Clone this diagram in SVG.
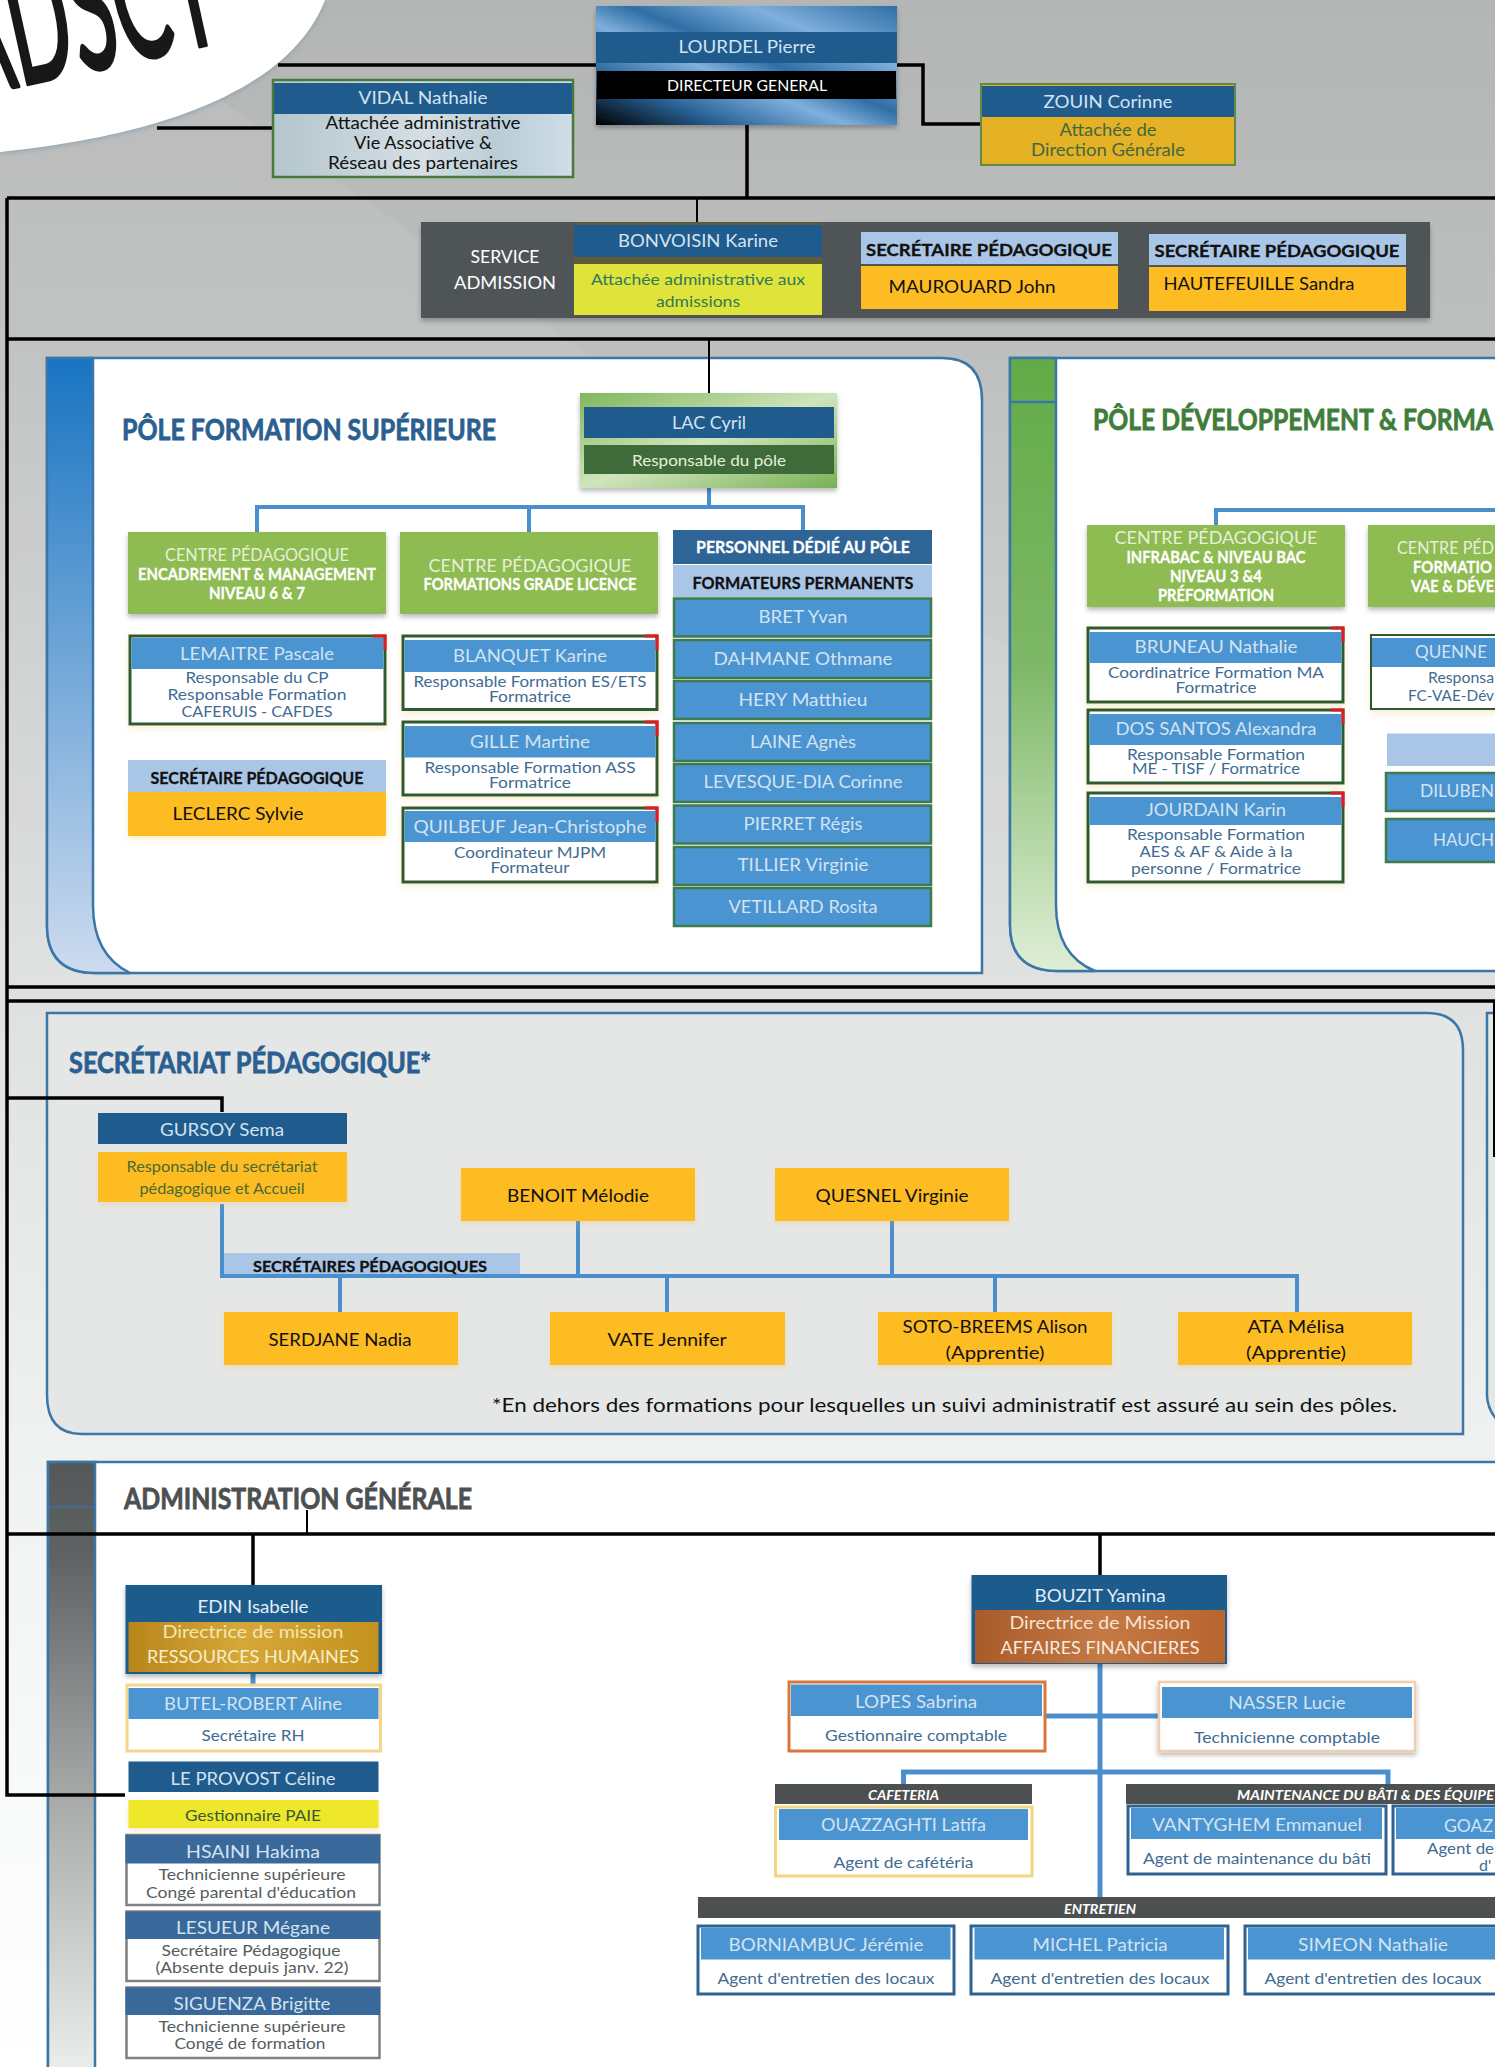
<svg xmlns="http://www.w3.org/2000/svg" width="1495" height="2067" viewBox="0 0 1495 2067">
<defs>
<linearGradient id="bg" x1="0" y1="0" x2="0" y2="1"><stop offset="0" stop-color="#b4b5b5"/><stop offset=".165" stop-color="#bdbebe"/><stop offset=".485" stop-color="#dfe0e0"/><stop offset=".72" stop-color="#f1f3f3"/><stop offset="1" stop-color="#ffffff"/></linearGradient>
<linearGradient id="barB" x1="0" y1="0" x2="0" y2="1"><stop offset="0" stop-color="#1874c2"/><stop offset="1" stop-color="#cddbef"/></linearGradient>
<linearGradient id="barG" x1="0" y1="0" x2="0" y2="1"><stop offset="0" stop-color="#62ab48"/><stop offset=".5" stop-color="#7db866"/><stop offset="1" stop-color="#dfeed6"/></linearGradient>
<linearGradient id="barK" x1="0" y1="0" x2="0" y2="1"><stop offset="0" stop-color="#555859"/><stop offset=".15" stop-color="#5f6263"/><stop offset=".55" stop-color="#a9abab"/><stop offset="1" stop-color="#eeefef"/></linearGradient>
<linearGradient id="dir" x1="0" y1="1" x2="1" y2="0"><stop offset="0" stop-color="#000"/><stop offset=".22" stop-color="#2a6499"/><stop offset=".42" stop-color="#7fb0dd"/><stop offset=".55" stop-color="#2f6ea5"/><stop offset=".75" stop-color="#7fb0dd"/><stop offset="1" stop-color="#2f6ea5"/></linearGradient>
<linearGradient id="vid" x1="0" y1="0" x2="1" y2="0"><stop offset="0" stop-color="#b4c5cd"/><stop offset=".5" stop-color="#d5dfe4"/><stop offset=".75" stop-color="#b9cdd6"/><stop offset="1" stop-color="#d0deea"/></linearGradient>
<linearGradient id="lac" x1="0" y1="0" x2="1" y2="1"><stop offset="0" stop-color="#7fb65c"/><stop offset=".5" stop-color="#cfe5bd"/><stop offset="1" stop-color="#78b054"/></linearGradient>
<linearGradient id="gold" x1="0" y1="0" x2="1" y2="0"><stop offset="0" stop-color="#b8861b"/><stop offset=".45" stop-color="#d6a838"/><stop offset="1" stop-color="#c3921f"/></linearGradient>
<linearGradient id="copper" x1="0" y1="0" x2="1" y2="0"><stop offset="0" stop-color="#a85b29"/><stop offset=".5" stop-color="#c47a45"/><stop offset="1" stop-color="#b8652f"/></linearGradient>
<filter id="sh" x="-10%" y="-10%" width="120%" height="130%"><feDropShadow dx="0" dy="3" stdDeviation="2.5" flood-color="#000" flood-opacity=".28"/></filter>
<filter id="so" x="-10%" y="-10%" width="120%" height="130%"><feDropShadow dx="0" dy="3" stdDeviation="3" flood-color="#e8b64a" flood-opacity=".25"/></filter>
<filter id="lg" x="-10%" y="-10%" width="120%" height="120%"><feDropShadow dx="0" dy="2" stdDeviation="2" flood-color="#6f8ea3" flood-opacity=".5"/></filter>
</defs>
<style>
text{font-family:Lato,"Liberation Sans",sans-serif;text-anchor:middle;dominant-baseline:central;transform:translateY(-1px)}
.st{text-anchor:start}
.n{font-size:18px;fill:#d3e3f0}
.w{font-size:18px;fill:#fff}
.s{font-size:16px;fill:#3f6c92}
.g{font-size:16px;fill:#555c60}
.k{font-size:18px;fill:#111}
.kb{font-size:17px;font-weight:700;fill:#111;stroke:#111;stroke-width:.3}
.wb{font-size:17px;font-weight:700;fill:#fff;stroke:#fff;stroke-width:.3}
.wi{font-size:14px;font-weight:700;font-style:italic;fill:#fff}
.c{font-size:18px;fill:#e6f0d8}
.t{font-size:29px;font-weight:700;stroke-width:.8}
.hd{fill:#1f5b8c}
.bl{fill:#4a94d2}
.or{fill:#fdbc22}
.lb{fill:#aac6e6}
.gr{fill:#8fbb52}
.dk{fill:#4d5051}
.wh{fill:#fff}
.ye{fill:#e0e33a}
.pb{fill:#fff;stroke:#2f5a30;stroke-width:3}
.pg{fill:#fff;stroke:#808080;stroke-width:2.5}
.pn{fill:#fff;stroke:#2f6291;stroke-width:3}
.fm{fill:#4a94d2;stroke:#3e7a4a;stroke-width:2.5}
.red{fill:none;stroke:#e01b24;stroke-width:3}
.lk{fill:none;stroke:#000;stroke-width:3.5}
.lk2{fill:none;stroke:#000;stroke-width:2}
.lb2{fill:none;stroke:#4a8fcc;stroke-width:4}
.lb3{fill:none;stroke:#4a8fcc;stroke-width:5}
.pan{stroke:#3a77a8;stroke-width:2.5}
</style>
<rect id="background" width="1495" height="2067" fill="url(#bg)"/>
<polygon points="220,100 1495,985 0,985 0,100" fill="#fff" opacity=".07"/>
<g id="logo">
<path d="M0 0H325C300 65 215 130 0 152Z" fill="#fff" filter="url(#lg)"/>
<g transform="translate(-35 98) rotate(-12.400)"><text x="0" y="0" class="st" style="dominant-baseline:alphabetic;transform:none;font-size:180px;fill:#16181a;stroke:#16181a;stroke-width:4;stroke-linejoin:round" textLength="268" lengthAdjust="spacingAndGlyphs">ADSCT</text></g>
</g>
<g id="panels">
<path class="pan" d="M47 358H942Q982 358 982 400V973H95Q47 973 47 925Z" fill="#fff"/>
<path class="pan" d="M47 358H93V905Q93 955 130 973H95Q47 973 47 925Z" fill="url(#barB)"/>
<path d="M47 403H93" stroke="#3a77a8" stroke-width="1"/>
<path class="pan" d="M1010 358H1510V971H1058Q1010 971 1010 925Z" fill="#fff"/>
<path class="pan" d="M1010 358H1056V905Q1056 955 1095 971H1058Q1010 971 1010 925Z" fill="url(#barG)"/>
<path d="M1010 402H1056" stroke="#3a77a8" stroke-width="2.500"/>
<path class="pan" d="M47 1013H1427Q1463 1013 1463 1050V1434H82Q47 1434 47 1395Z" fill="#e5e7e7"/>
<path class="pan" d="M1510 1013H1487V1395Q1487 1415 1510 1432Z" fill="#e6e8e8"/>
<path class="pan" d="M48 2080V1462H1510V2080Z" fill="#fff"/>
<path d="M48 1462H95V2080H48Z" fill="url(#barK)" stroke="#3a77a8" stroke-width="2.500"/>
<path d="M48 1507H95" stroke="#3a6fa8" stroke-width="1.500"/>
<text x="122" y="429" class="t st" fill="#2a5f8f" stroke="#2a5f8f" textLength="374" lengthAdjust="spacingAndGlyphs">PÔLE FORMATION SUPÉRIEURE</text>
<text x="1093" y="419" class="t st" fill="#3f7d3a" stroke="#3f7d3a" textLength="400" lengthAdjust="spacingAndGlyphs">PÔLE DÉVELOPPEMENT &amp; FORMA</text>
<text x="69" y="1062" class="t st" fill="#2a5f8f" stroke="#2a5f8f" textLength="362" lengthAdjust="spacingAndGlyphs">SECRÉTARIAT PÉDAGOGIQUE*</text>
<text x="124" y="1498" class="t st" fill="#4d5051" stroke="#4d5051" textLength="348" lengthAdjust="spacingAndGlyphs">ADMINISTRATION GÉNÉRALE</text>
<text x="492" y="1405" class="k st" style="font-size:20px" textLength="905" lengthAdjust="spacingAndGlyphs">*En dehors des formations pour lesquelles un suivi administratif est assuré au sein des pôles.</text>
</g>
<g id="connectors">
<path class="lk" d="M278 65H596M897 65H923V124H981M157 128H273M747 125V198"/>
<path class="lk" d="M7 198H1495M7 339H1495M7 987H1495M7 1001H1495M7 1534H1495M7 198V1795H125M7 1098H222V1112M253 1534V1585M1100 1534V1575"/>
<path class="lk2" d="M697 198V222M709 340V393M307 1510V1534M1494 1002V1157"/>
<path d="M822 270H861" stroke="#fff" stroke-width="3"/>
<path class="lb2" d="M709 488V507M257 532V507H803V532M529 507V532M1216 526V510H1510"/>
<path class="lb2" d="M222 1204V1276H1297V1312M578 1221V1276M892 1221V1276M340 1276V1312M667 1276V1312M995 1276V1312"/>
<path class="lb3" d="M253 1674V1684M1100 1664V1898M1045 1716H1158M903.500 1784V1772H1388V1784"/>
</g>
<g id="lourdel"><rect x="596" y="6" width="301" height="119" fill="url(#dir)" filter="url(#sh)"/><rect x="596" y="32" width="301" height="31" class="hd"/><rect x="597" y="71" width="299" height="28" fill="#000"/><text x="747" y="47" class="n" textLength="137" lengthAdjust="spacingAndGlyphs">LOURDEL Pierre</text><text x="747" y="85" class="w" style="font-size:16px" textLength="160" lengthAdjust="spacingAndGlyphs">DIRECTEUR GENERAL</text></g>
<g id="vidal"><rect x="273" y="80" width="300" height="97" fill="url(#vid)" stroke="#4a7a3a" stroke-width="2.500"/><rect x="274" y="83" width="298" height="31" class="hd"/><text x="423" y="98" class="n" textLength="129" lengthAdjust="spacingAndGlyphs">VIDAL Nathalie</text><text x="423" y="123" class="k" textLength="195" lengthAdjust="spacingAndGlyphs">Attachée administrative</text><text x="423" y="143" class="k" textLength="138" lengthAdjust="spacingAndGlyphs">Vie Associative &amp;</text><text x="423" y="163" class="k" textLength="190" lengthAdjust="spacingAndGlyphs">Réseau des partenaires</text></g>
<g id="zouin"><rect x="981" y="84" width="254" height="81" fill="#e5b125" stroke="#5f8a4a" stroke-width="2"/><rect x="982" y="86" width="252" height="31" class="hd"/><text x="1108" y="102" class="n" textLength="129" lengthAdjust="spacingAndGlyphs">ZOUIN Corinne</text><text x="1108" y="130" style="font-size:17px;fill:#3f6a40" textLength="97" lengthAdjust="spacingAndGlyphs">Attachée de</text><text x="1108" y="150" style="font-size:17px;fill:#3f6a40" textLength="154" lengthAdjust="spacingAndGlyphs">Direction Générale</text></g>
<g id="service-admission"><rect x="421" y="222" width="1009" height="96" fill="#505556" filter="url(#sh)"/><text x="505" y="257" class="w" textLength="69" lengthAdjust="spacingAndGlyphs">SERVICE</text><text x="505" y="283" class="w" textLength="102" lengthAdjust="spacingAndGlyphs">ADMISSION</text></g>
<g id="bonvoisin"><rect x="574" y="222" width="248" height="42" fill="#5f5b3a"/><rect x="574" y="225" width="248" height="32" fill="#1f5b8c"/><rect x="574" y="264" width="248" height="51" class="ye"/><text x="698" y="241" class="n" textLength="160" lengthAdjust="spacingAndGlyphs">BONVOISIN Karine</text><text x="698" y="279" style="font-size:16px;fill:#2f7a5a" textLength="214" lengthAdjust="spacingAndGlyphs">Attachée administrative aux</text><text x="698" y="301" style="font-size:16px;fill:#2f7a5a" textLength="84" lengthAdjust="spacingAndGlyphs">admissions</text></g>
<g id="maurouard"><rect x="861" y="232" width="257" height="32" class="lb"/><rect x="861" y="266" width="257" height="43" class="or"/><text x="989" y="250" class="kb" textLength="246" lengthAdjust="spacingAndGlyphs">SECRÉTAIRE PÉDAGOGIQUE</text><text x="972" y="287" class="k" textLength="167" lengthAdjust="spacingAndGlyphs">MAUROUARD John</text></g>
<g id="hautefeuille"><rect x="1149" y="234" width="257" height="31" class="lb"/><rect x="1149" y="267" width="257" height="44" class="or"/><text x="1277" y="251" class="kb" textLength="245" lengthAdjust="spacingAndGlyphs">SECRÉTAIRE PÉDAGOGIQUE</text><text x="1259" y="284" class="k" textLength="191" lengthAdjust="spacingAndGlyphs">HAUTEFEUILLE Sandra</text></g>
<g id="lac"><rect x="580" y="393" width="257" height="95" fill="url(#lac)" filter="url(#sh)"/><rect x="584" y="407" width="250" height="31" class="hd"/><rect x="584" y="445" width="250" height="29" fill="#3f6b3a"/><text x="709" y="423" class="n" textLength="74" lengthAdjust="spacingAndGlyphs">LAC Cyril</text><text x="709" y="460" class="c" style="font-size:16px" textLength="154" lengthAdjust="spacingAndGlyphs">Responsable du pôle</text></g>
<g id="centre-encadrement"><rect x="128" y="532" width="258" height="82" class="gr" filter="url(#sh)"/><text x="257" y="555" class="c" textLength="184" lengthAdjust="spacingAndGlyphs">CENTRE PÉDAGOGIQUE</text><text x="257" y="574" class="wb" textLength="238" lengthAdjust="spacingAndGlyphs">ENCADREMENT &amp; MANAGEMENT</text><text x="257" y="593" class="wb" textLength="96" lengthAdjust="spacingAndGlyphs">NIVEAU 6 &amp; 7</text></g>
<g id="centre-licence"><rect x="400" y="532" width="258" height="82" class="gr" filter="url(#sh)"/><text x="530" y="566" class="c" textLength="203" lengthAdjust="spacingAndGlyphs">CENTRE PÉDAGOGIQUE</text><text x="530" y="584" class="wb" textLength="213" lengthAdjust="spacingAndGlyphs">FORMATIONS GRADE LICENCE</text></g>
<g id="personnel"><rect x="673" y="530" width="259" height="34" fill="#2f6496"/><text x="803" y="547" class="wb" textLength="214" lengthAdjust="spacingAndGlyphs">PERSONNEL DÉDIÉ AU PÔLE</text><rect x="673" y="565" width="259" height="32" class="lb"/><text x="803" y="583" class="kb" textLength="221" lengthAdjust="spacingAndGlyphs">FORMATEURS PERMANENTS</text></g>
<g id="bret"><rect x="674" y="598.500" width="257" height="38" class="fm"/><text x="803" y="616.500" class="n" textLength="89" lengthAdjust="spacingAndGlyphs">BRET Yvan</text></g>
<g id="dahmane"><rect x="674" y="640" width="257" height="38" class="fm"/><text x="803" y="658.500" class="n" textLength="179" lengthAdjust="spacingAndGlyphs">DAHMANE Othmane</text></g>
<g id="hery"><rect x="674" y="681" width="257" height="38" class="fm"/><text x="803" y="700" class="n" textLength="129" lengthAdjust="spacingAndGlyphs">HERY Matthieu</text></g>
<g id="laine"><rect x="674" y="723" width="257" height="38" class="fm"/><text x="803" y="741.500" class="n" textLength="106" lengthAdjust="spacingAndGlyphs">LAINE Agnès</text></g>
<g id="levesque"><rect x="674" y="764" width="257" height="38" class="fm"/><text x="803" y="782" class="n" textLength="199" lengthAdjust="spacingAndGlyphs">LEVESQUE-DIA Corinne</text></g>
<g id="pierret"><rect x="674" y="805.500" width="257" height="38" class="fm"/><text x="803" y="824" class="n" textLength="119" lengthAdjust="spacingAndGlyphs">PIERRET Régis</text></g>
<g id="tillier"><rect x="674" y="847" width="257" height="38" class="fm"/><text x="803" y="865" class="n" textLength="131" lengthAdjust="spacingAndGlyphs">TILLIER Virginie</text></g>
<g id="vetillard"><rect x="674" y="888" width="257" height="38" class="fm"/><text x="803" y="907" class="n" textLength="149" lengthAdjust="spacingAndGlyphs">VETILLARD Rosita</text></g>
<g id="lemaitre"><rect x="130" y="636" width="255" height="88" class="pb" filter="url(#so)"/><rect x="131.500" y="638" width="252" height="31" class="bl"/><path class="red" d="M373 636H385V650"/><text x="257" y="654" class="n" textLength="154" lengthAdjust="spacingAndGlyphs">LEMAITRE Pascale</text><text x="257" y="677.500" class="s" textLength="143" lengthAdjust="spacingAndGlyphs">Responsable du CP</text><text x="257" y="694" class="s" textLength="179" lengthAdjust="spacingAndGlyphs">Responsable Formation</text><text x="257" y="711" class="s" textLength="151" lengthAdjust="spacingAndGlyphs">CAFERUIS -  CAFDES</text></g>
<g id="leclerc"><rect x="128" y="760" width="258" height="32" class="lb"/><rect x="128" y="792" width="258" height="44" class="or" filter="url(#so)"/><text x="257" y="778" class="kb" textLength="213" lengthAdjust="spacingAndGlyphs">SECRÉTAIRE PÉDAGOGIQUE</text><text x="238" y="814" class="k" textLength="131" lengthAdjust="spacingAndGlyphs">LECLERC  Sylvie</text></g>
<g id="blanquet"><rect x="403" y="636" width="254" height="73.500" class="pb" filter="url(#so)"/><rect x="404.500" y="640" width="251" height="32" class="bl"/><path class="red" d="M645 636H657V650"/><text x="530" y="656" class="n" textLength="154" lengthAdjust="spacingAndGlyphs">BLANQUET Karine</text><text x="530" y="681" class="s" textLength="233" lengthAdjust="spacingAndGlyphs">Responsable Formation ES/ETS</text><text x="530" y="696.500" class="s" textLength="82" lengthAdjust="spacingAndGlyphs">Formatrice</text></g>
<g id="gille"><rect x="403" y="722" width="254" height="73" class="pb" filter="url(#so)"/><rect x="404.500" y="726" width="251" height="31.500" class="bl"/><path class="red" d="M645 722H657V736"/><text x="530" y="742" class="n" textLength="120" lengthAdjust="spacingAndGlyphs">GILLE Martine</text><text x="530" y="767" class="s" textLength="211" lengthAdjust="spacingAndGlyphs">Responsable Formation ASS</text><text x="530" y="782" class="s" textLength="82" lengthAdjust="spacingAndGlyphs">Formatrice</text></g>
<g id="quilbeuf"><rect x="403" y="808" width="254" height="74" class="pb" filter="url(#so)"/><rect x="404.500" y="811" width="251" height="31" class="bl"/><path class="red" d="M645 808H657V822"/><text x="530" y="827" class="n" textLength="233" lengthAdjust="spacingAndGlyphs">QUILBEUF Jean-Christophe</text><text x="530" y="852" class="s" textLength="152" lengthAdjust="spacingAndGlyphs">Coordinateur MJPM</text><text x="530" y="867" class="s" textLength="79" lengthAdjust="spacingAndGlyphs">Formateur</text></g>
<g id="centre-infrabac"><rect x="1087" y="525" width="258" height="82" class="gr" filter="url(#sh)"/><text x="1216" y="538" class="c" textLength="203" lengthAdjust="spacingAndGlyphs">CENTRE PÉDAGOGIQUE</text><text x="1216" y="557" class="wb" textLength="179" lengthAdjust="spacingAndGlyphs">INFRABAC &amp; NIVEAU BAC</text><text x="1216" y="576.500" class="wb" textLength="92" lengthAdjust="spacingAndGlyphs">NIVEAU 3 &amp;4</text><text x="1216" y="595.500" class="wb" textLength="116" lengthAdjust="spacingAndGlyphs">PRÉFORMATION</text></g>
<g id="centre-vae"><rect x="1368" y="525" width="140" height="82" class="gr" filter="url(#sh)"/><text x="1397" y="547.500" class="c st" textLength="97" lengthAdjust="spacingAndGlyphs">CENTRE PÉD</text><text x="1413" y="567" class="wb st" textLength="79" lengthAdjust="spacingAndGlyphs">FORMATIO</text><text x="1411" y="586" class="wb st" textLength="83" lengthAdjust="spacingAndGlyphs">VAE &amp; DÉVE</text></g>
<g id="bruneau"><rect x="1088" y="628" width="255" height="74" class="pb" filter="url(#so)"/><rect x="1089.500" y="632" width="252" height="31" class="bl"/><path class="red" d="M1331 628H1343V642"/><text x="1216" y="647" class="n" textLength="163" lengthAdjust="spacingAndGlyphs">BRUNEAU Nathalie</text><text x="1216" y="672.500" class="s" textLength="216" lengthAdjust="spacingAndGlyphs">Coordinatrice Formation MA</text><text x="1216" y="687" class="s" textLength="81" lengthAdjust="spacingAndGlyphs">Formatrice</text></g>
<g id="dos-santos"><rect x="1088" y="710" width="255" height="73" class="pb" filter="url(#so)"/><rect x="1089.500" y="714" width="252" height="31" class="bl"/><path class="red" d="M1331 710H1343V724"/><text x="1216" y="729" class="n" textLength="201" lengthAdjust="spacingAndGlyphs">DOS SANTOS Alexandra</text><text x="1216" y="754.500" class="s" textLength="178" lengthAdjust="spacingAndGlyphs">Responsable Formation</text><text x="1216" y="768.500" class="s" textLength="168" lengthAdjust="spacingAndGlyphs">ME - TISF / Formatrice</text></g>
<g id="jourdain"><rect x="1088" y="793" width="255" height="89" class="pb" filter="url(#so)"/><rect x="1089.500" y="797" width="252" height="28" class="bl"/><path class="red" d="M1331 793H1343V807"/><text x="1216" y="810" class="n" textLength="140" lengthAdjust="spacingAndGlyphs">JOURDAIN Karin</text><text x="1216" y="834" class="s" textLength="178" lengthAdjust="spacingAndGlyphs">Responsable Formation</text><text x="1216" y="851" class="s" textLength="153" lengthAdjust="spacingAndGlyphs">AES &amp; AF &amp; Aide à la</text><text x="1216" y="868" class="s" textLength="170" lengthAdjust="spacingAndGlyphs">personne / Formatrice</text></g>
<g id="quenne"><rect x="1371" y="635" width="140" height="74" fill="#fff" stroke="#2f5a30" stroke-width="2" filter="url(#so)"/><rect x="1372" y="638" width="138" height="29" class="bl"/><text x="1415" y="651.500" class="n st" textLength="72" lengthAdjust="spacingAndGlyphs">QUENNE</text><text x="1428" y="677" class="s st" textLength="66" lengthAdjust="spacingAndGlyphs">Responsa</text><text x="1408" y="695" class="s st" textLength="86" lengthAdjust="spacingAndGlyphs">FC-VAE-Dév</text></g>
<g id="formateurs-dev"><rect x="1387" y="733.500" width="120" height="32.500" class="lb"/></g>
<g id="diluben"><rect x="1386" y="773" width="120" height="38" class="fm"/><text x="1420" y="791" class="n st" textLength="74" lengthAdjust="spacingAndGlyphs">DILUBEN</text></g>
<g id="hauch"><rect x="1386" y="819" width="120" height="43" class="fm"/><text x="1433" y="840" class="n st" textLength="61" lengthAdjust="spacingAndGlyphs">HAUCH</text></g>
<g id="gursoy"><rect x="98" y="1113" width="249" height="31" class="hd"/><rect x="98" y="1152" width="249" height="50" class="or" filter="url(#so)"/><text x="222" y="1130" class="n" textLength="124" lengthAdjust="spacingAndGlyphs">GURSOY Sema</text><text x="222" y="1167" style="font-size:15px;fill:#4a6a30" textLength="191" lengthAdjust="spacingAndGlyphs">Responsable du secrétariat</text><text x="222" y="1189" style="font-size:15px;fill:#4a6a30" textLength="165" lengthAdjust="spacingAndGlyphs">pédagogique et Accueil</text></g>
<g id="benoit"><rect x="461" y="1168" width="234" height="53" class="or" filter="url(#so)"/><text x="578" y="1196" class="k" textLength="142" lengthAdjust="spacingAndGlyphs">BENOIT Mélodie</text></g>
<g id="quesnel"><rect x="775" y="1168" width="234" height="53" class="or" filter="url(#so)"/><text x="892" y="1196" class="k" textLength="153" lengthAdjust="spacingAndGlyphs">QUESNEL Virginie</text></g>
<g id="secretaires-label"><rect x="224" y="1253" width="296" height="21" class="lb"/><text x="370" y="1267" class="kb" style="font-size:15px" textLength="234" lengthAdjust="spacingAndGlyphs">SECRÉTAIRES PÉDAGOGIQUES</text></g>
<g id="serdjane"><rect x="224" y="1312" width="234" height="53" class="or" filter="url(#so)"/><text x="340" y="1340" class="k" textLength="143" lengthAdjust="spacingAndGlyphs">SERDJANE Nadia</text></g>
<g id="vate"><rect x="550" y="1312" width="235" height="53" class="or" filter="url(#so)"/><text x="667" y="1340" class="k" textLength="119" lengthAdjust="spacingAndGlyphs">VATE Jennifer</text></g>
<g id="soto"><rect x="878" y="1312" width="234" height="53" class="or" filter="url(#so)"/><text x="995" y="1327" class="k" textLength="185" lengthAdjust="spacingAndGlyphs">SOTO-BREEMS Alison</text><text x="995" y="1353" class="k" textLength="99" lengthAdjust="spacingAndGlyphs">(Apprentie)</text></g>
<g id="ata"><rect x="1178" y="1312" width="234" height="53" class="or" filter="url(#so)"/><text x="1296" y="1327" class="k" textLength="97" lengthAdjust="spacingAndGlyphs">ATA Mélisa</text><text x="1296" y="1353" class="k" textLength="100" lengthAdjust="spacingAndGlyphs">(Apprentie)</text></g>
<g id="edin"><rect x="125.500" y="1585" width="256.500" height="89" fill="#1f5b8c" filter="url(#sh)"/><rect x="128.500" y="1622" width="250" height="50" fill="url(#gold)"/><text x="253" y="1607" class="w" style="fill:#e3edf5" textLength="111" lengthAdjust="spacingAndGlyphs">EDIN Isabelle</text><text x="253" y="1632" class="w" style="fill:#f3e6b4" textLength="181" lengthAdjust="spacingAndGlyphs">Directrice de mission</text><text x="253" y="1657" class="w" style="fill:#f7edc8" textLength="212" lengthAdjust="spacingAndGlyphs">RESSOURCES HUMAINES</text></g>
<g id="butel"><rect x="127" y="1685" width="253.500" height="66" fill="#fff" stroke="#f6d587" stroke-width="3"/><rect x="128.500" y="1688" width="250" height="31" class="bl"/><text x="253" y="1704" class="n" textLength="178" lengthAdjust="spacingAndGlyphs">BUTEL-ROBERT Aline</text><text x="253" y="1735" class="s" textLength="103" lengthAdjust="spacingAndGlyphs">Secrétaire RH</text></g>
<g id="le-provost"><rect x="128.500" y="1761.500" width="250" height="30.500" class="hd"/><rect x="128.500" y="1800" width="250" height="28" fill="#eee72a" filter="url(#so)"/><text x="253" y="1778.500" class="n" textLength="165" lengthAdjust="spacingAndGlyphs">LE PROVOST Céline</text><text x="253" y="1815" style="font-size:16px;fill:#3a5a3a" textLength="136" lengthAdjust="spacingAndGlyphs">Gestionnaire PAIE</text></g>
<g id="hsaini"><rect x="126.500" y="1835" width="253" height="70" class="pg"/><rect x="125.500" y="1835" width="254.500" height="28.500" fill="#38699a"/><text x="253" y="1851.500" class="n" textLength="134" lengthAdjust="spacingAndGlyphs">HSAINI  Hakima</text><text x="252" y="1874" class="g" textLength="187" lengthAdjust="spacingAndGlyphs">Technicienne supérieure</text><text x="251" y="1892" class="g" textLength="210" lengthAdjust="spacingAndGlyphs">Congé parental d'éducation</text></g>
<g id="lesueur"><rect x="126.500" y="1911.500" width="253" height="69.500" class="pg"/><rect x="125.500" y="1911.500" width="254.500" height="27.500" fill="#38699a"/><text x="253" y="1927.500" class="n" textLength="154" lengthAdjust="spacingAndGlyphs">LESUEUR Mégane</text><text x="251" y="1950" class="g" textLength="179" lengthAdjust="spacingAndGlyphs">Secrétaire Pédagogique</text><text x="252" y="1967" class="g" textLength="193" lengthAdjust="spacingAndGlyphs">(Absente depuis janv. 22)</text></g>
<g id="siguenza"><rect x="126.500" y="1987.500" width="253" height="70.500" class="pg"/><rect x="125.500" y="1987.500" width="254.500" height="27.500" fill="#38699a"/><text x="252" y="2003.500" class="n" textLength="157" lengthAdjust="spacingAndGlyphs">SIGUENZA Brigitte</text><text x="252" y="2026.500" class="g" textLength="187" lengthAdjust="spacingAndGlyphs">Technicienne supérieure</text><text x="250" y="2043.500" class="g" textLength="151" lengthAdjust="spacingAndGlyphs">Congé de formation</text></g>
<g id="bouzit"><rect x="971.500" y="1575" width="255.500" height="89" fill="#1f5b8c" filter="url(#sh)"/><rect x="975" y="1610" width="250" height="53" fill="url(#copper)"/><text x="1100" y="1596" class="w" style="fill:#e3edf5" textLength="131" lengthAdjust="spacingAndGlyphs">BOUZIT Yamina</text><text x="1100" y="1623" class="w" style="fill:#f5e3d3" textLength="181" lengthAdjust="spacingAndGlyphs">Directrice de Mission</text><text x="1100" y="1648" class="w" style="fill:#f8eadf" textLength="199" lengthAdjust="spacingAndGlyphs">AFFAIRES FINANCIERES</text></g>
<g id="lopes"><rect x="789" y="1682" width="256" height="69" fill="#fff" stroke="#d9773a" stroke-width="3"/><rect x="791" y="1684.500" width="251" height="31.500" class="bl"/><text x="916" y="1702" class="n" textLength="122" lengthAdjust="spacingAndGlyphs">LOPES Sabrina</text><text x="916" y="1735" class="s" textLength="182" lengthAdjust="spacingAndGlyphs">Gestionnaire comptable</text></g>
<g id="nasser"><rect x="1159" y="1682" width="256" height="69" fill="#fff" stroke="#f0ceb0" stroke-width="2.500" filter="url(#sh)"/><rect x="1162" y="1687" width="250" height="31" class="bl"/><text x="1287" y="1703" class="n" textLength="117" lengthAdjust="spacingAndGlyphs">NASSER Lucie</text><text x="1287" y="1737.500" class="s" textLength="186" lengthAdjust="spacingAndGlyphs">Technicienne comptable</text></g>
<g id="cafeteria"><rect x="775" y="1784" width="257" height="20" class="dk"/><text x="903.500" y="1795.500" class="wi" textLength="71" lengthAdjust="spacingAndGlyphs">CAFETERIA</text><rect x="775.500" y="1807" width="256.500" height="69" fill="#fff" stroke="#f2d680" stroke-width="3"/><rect x="779" y="1809" width="249" height="31" class="bl"/><text x="903.500" y="1825" class="n" textLength="165" lengthAdjust="spacingAndGlyphs">OUAZZAGHTI Latifa</text><text x="903.500" y="1862.500" class="s" textLength="140" lengthAdjust="spacingAndGlyphs">Agent de cafétéria</text></g>
<g id="maintenance"><rect x="1126" y="1784" width="380" height="20" class="dk"/><text x="1237" y="1795.500" class="wi st" textLength="257" lengthAdjust="spacingAndGlyphs">MAINTENANCE DU BÂTI &amp; DES ÉQUIPE</text></g>
<g id="vantyghem"><rect x="1128" y="1806" width="258" height="68" class="pn"/><rect x="1131" y="1808" width="251" height="31" class="bl"/><text x="1257" y="1825" class="n" textLength="210" lengthAdjust="spacingAndGlyphs">VANTYGHEM Emmanuel</text><text x="1257" y="1858" class="s" textLength="228" lengthAdjust="spacingAndGlyphs">Agent de maintenance du bâti</text></g>
<g id="goaz"><rect x="1393" y="1806" width="120" height="68" class="pn"/><rect x="1396" y="1808" width="110" height="31" class="bl"/><text x="1444" y="1826" class="n st" textLength="49" lengthAdjust="spacingAndGlyphs">GOAZ</text><text x="1427" y="1848" class="s st" textLength="67" lengthAdjust="spacingAndGlyphs">Agent de</text><text x="1479" y="1865" class="s st">d'</text></g>
<g id="entretien"><rect x="698" y="1897" width="810" height="21" class="dk"/><text x="1100" y="1909" class="wi" textLength="72" lengthAdjust="spacingAndGlyphs">ENTRETIEN</text></g>
<g id="borniambuc"><rect x="698" y="1926" width="256" height="68" class="pn"/><rect x="701" y="1927.500" width="249.500" height="32" class="bl"/><text x="826" y="1945" class="n" textLength="195" lengthAdjust="spacingAndGlyphs">BORNIAMBUC Jérémie</text><text x="826" y="1978.500" class="s" textLength="217" lengthAdjust="spacingAndGlyphs">Agent d'entretien des locaux</text></g>
<g id="michel"><rect x="971" y="1926" width="257" height="68" class="pn"/><rect x="974.500" y="1927.500" width="249.500" height="32" class="bl"/><text x="1100" y="1945" class="n" textLength="135" lengthAdjust="spacingAndGlyphs">MICHEL Patricia</text><text x="1100" y="1978.500" class="s" textLength="219" lengthAdjust="spacingAndGlyphs">Agent d'entretien des locaux</text></g>
<g id="simeon"><rect x="1245" y="1926" width="257" height="68" class="pn"/><rect x="1248" y="1927.500" width="250" height="32" class="bl"/><text x="1373" y="1945" class="n" textLength="150" lengthAdjust="spacingAndGlyphs">SIMEON Nathalie</text><text x="1373" y="1978.500" class="s" textLength="217" lengthAdjust="spacingAndGlyphs">Agent d'entretien des locaux</text></g>
</svg>
